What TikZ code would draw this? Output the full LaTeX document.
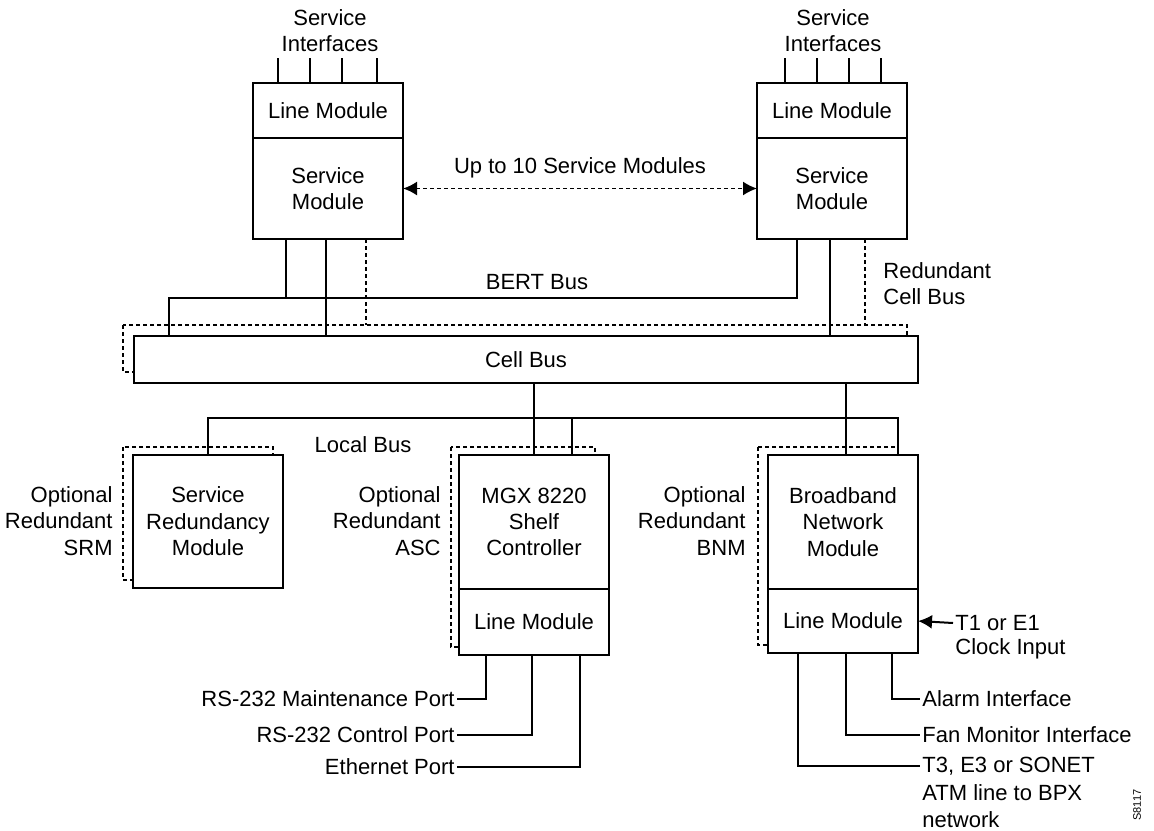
\documentclass[tikz,border=0pt]{standalone}
\usepackage{fontspec}
\setmainfont{Liberation Sans}
\usetikzlibrary{positioning}
\usetikzlibrary{calc}
\usetikzlibrary{arrows.meta}
\usetikzlibrary{backgrounds}
\tikzset{
  module/.style={draw, fill=white, line width=1pt, inner sep=0pt, outer sep=0pt, minimum width=75pt, align=center},
  txt/.style={inner sep=1pt, align=center},
  redund/.style={line width=0.9pt, dash pattern=on 2pt off 1.5pt},
  wire/.style={line width=1pt}
}

\begin{document}
\begin{tikzpicture}[x=0.5pt, y=-0.5pt, font=\fontsize{11}{13.2}\selectfont]
\useasboundingbox (0,0) rectangle (1154,830);

% service modules
\node[module, minimum height=27.5pt] (lmA) at (328,110.5) {Line Module};
\node[module, minimum height=50.5pt, below=0pt of lmA] (smA) {Service\\Module};
\node[module, minimum height=27.5pt] (lmB) at (832,110.5) {Line Module};
\node[module, minimum height=50.5pt, below=0pt of lmB] (smB) {Service\\Module};

\node[txt] (ifA) at (330,30.5) {Service\\Interfaces};
\node[txt] (ifB) at (833,30.5) {Service\\Interfaces};
\foreach \dx in {-50,-18,14,49} {
  \draw[wire] ($(lmA.north)+(\dx,0)$) -- ++(0,-25);
}
\foreach \dx in {-47,-15,17,49} {
  \draw[wire] ($(lmB.north)+(\dx,0)$) -- ++(0,-25);
}

\draw[redund, {Latex[length=7pt,width=7pt]}-{Latex[length=7pt,width=7pt]}] (smA.east) -- (smB.west)
  node[midway, above=4pt, txt] (upto) {Up to 10 Service Modules};

% cell bus
\node[module, minimum width=392pt, minimum height=23.5pt] (cell) at (526,359.5) {Cell Bus};
\coordinate (rtop) at ($(cell.north)+(0,-11)$);

% BERT bus
\coordinate (bertL) at (169,298);
\coordinate (bertR) at (797,298);
\draw[wire] (smB.south -| bertR) -- (bertR) -- (bertL) -- (bertL |- cell.north);
\draw[wire] ($(smA.south)+(-42,0)$) coordinate (bA) -- (bA |- bertL);
\node[txt] (bert) at (537,282) {BERT Bus};

\draw[wire] ($(smA.south)+(-2,0)$) coordinate (cA) -- (cA |- cell.north);
\draw[wire] ($(smB.south)+(-2,0)$) coordinate (cB) -- (cB |- cell.north);

%redundant cell bus
\draw[redund] ($(smA.south)+(38,0)$) coordinate (rA) -- (rA |- rtop);
\draw[redund] ($(smB.south)+(33,0)$) coordinate (rB) -- (rB |- rtop);
\node[txt, align=left, anchor=west] (rcb) at (881,283.5) {Redundant\\Cell Bus};

% lower modules
\node[module, minimum height=66.5pt] (srm) at (208,521.5) {Service\\Redundancy\\Module};
\node[module, minimum height=67pt] (mgx) at (534,522) {MGX 8220\\Shelf\\Controller};
\node[module, minimum height=33pt, below=0pt of mgx] (mgxlm) {Line Module};
\node[module, minimum height=67pt] (bnm) at (843,522) {Broadband\\Network\\Module};
\node[module, minimum height=32pt, below=0pt of bnm] (bnmlm) {Line Module};

\node[txt, align=right, anchor=east] (optA) at (115,521) {Optional\\Redundant\\SRM};
\node[txt, align=right, anchor=east] (optB) at (443,521) {Optional\\Redundant\\ASC};
\node[txt, align=right, anchor=east] (optC) at (748,521) {Optional\\Redundant\\BNM};

\begin{pgfonlayer}{background}
\draw[redund] ($(cell.north west)+(-11,-11)$) rectangle ($(cell.south east)+(-11,-11)$);
\draw[redund] ($(srm.north west)+(-10,-8)$) rectangle ($(srm.south east)+(-10,-8)$);
\draw[redund] ($(mgx.north west)+(-8,-8)$) rectangle ($(mgxlm.south east)+(-14,-8)$);
\draw[redund] ($(bnm.north west)+(-10,-8)$) rectangle ($(bnmlm.south east)+(-20,-8)$);
\end{pgfonlayer}

% cell bus to controllers
\draw[wire] (cell.south -| mgx.north) -- (mgx.north);
\draw[wire] ($(bnm.north)+(3,0)$) coordinate (nB) -- (nB |- cell.south);

% local bus
\coordinate (localR) at ($(bnm.north east)+(-20,-37)$);
\draw[wire] (srm.north) |- (localR) -- (localR |- bnm.north);
\draw[wire] ($(mgx.north east)+(-37,0)$) coordinate (lM) -- (lM |- localR);
\node[txt] (local) at (363,445) {Local Bus};

% ports
\node[txt, anchor=east] (maint) at (457,699) {RS-232 Maintenance Port};
\node[txt, anchor=east] (ctrl) at (457,735) {RS-232 Control Port};
\node[txt, anchor=east] (ether) at (457,767) {Ethernet Port};
\draw[wire] ($(mgxlm.south west)+(27,0)$) |- (maint.east);
\draw[wire] ($(mgxlm.south west)+(73,0)$) |- (ctrl.east);
\draw[wire] ($(mgxlm.south west)+(121,0)$) |- (ether.east);

\node[txt, anchor=west] (alarm) at (920,699) {Alarm Interface};
\node[txt, anchor=west] (fan) at (920,735) {Fan Monitor Interface};
\node[txt, anchor=west] (atm) at (920,766) {T3, E3 or SONET};
\node[txt, align=left, anchor=north west] (atmB) at ($(atm.south west)+(0,5)$) {ATM line to BPX\\network};
\draw[wire] ($(bnmlm.south west)+(30,0)$) |- (atm.west);
\draw[wire] ($(bnmlm.south west)+(78,0)$) |- (fan.west);
\draw[wire] ($(bnmlm.south west)+(124,0)$) |- (alarm.west);

\node[txt, anchor=west] (clk) at (953,623) {T1 or E1};
\node[txt, anchor=north west] (clkB) at ($(clk.south west)+(0,3)$) {Clock Input};
\draw[wire, -{Latex[length=7pt,width=7pt]}] (clk.west) -- (bnmlm.east);

\node[rotate=90, inner sep=0pt, font=\fontsize{5.5}{6}\selectfont] (fig) at (1137,805) {S8117};

\end{tikzpicture}
\end{document}
